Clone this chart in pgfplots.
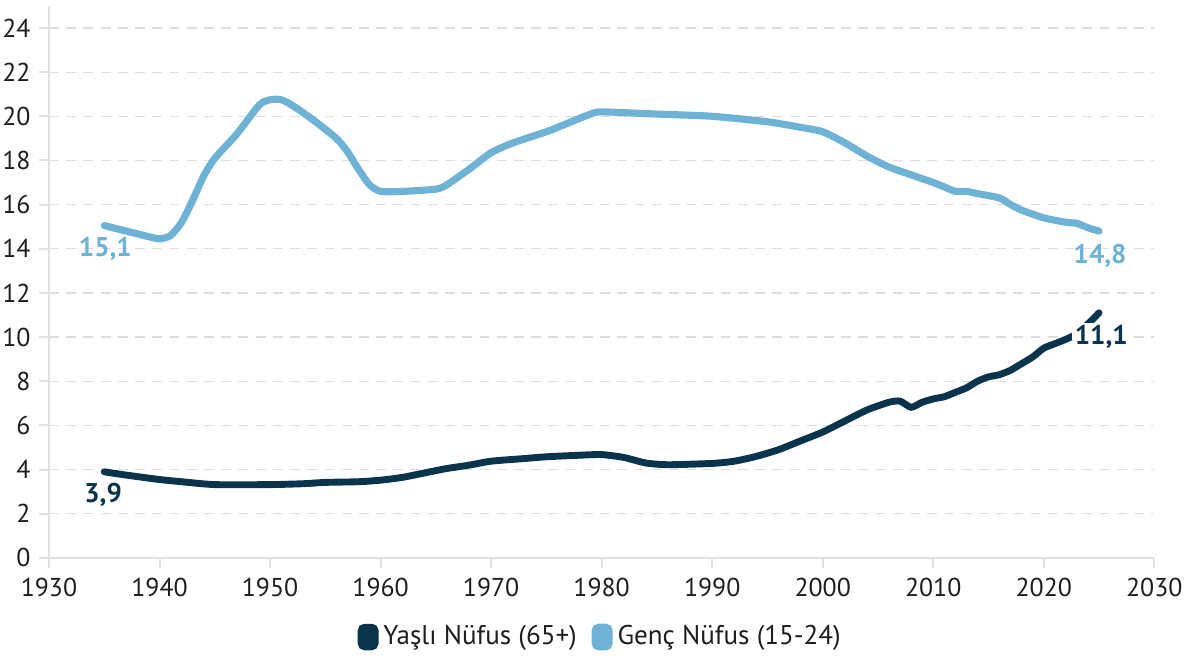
\documentclass[border=0pt]{standalone}
\usepackage{fontspec}
\setmainfont{PT Sans}
\usepackage{pgfplots}
\pgfplotsset{compat=1.18}
\definecolor{yasli}{RGB}{10,52,76}
\definecolor{genc}{RGB}{110,178,214}
\definecolor{gridc}{RGB}{222,222,222}
\definecolor{axc}{RGB}{225,225,225}
\definecolor{txt}{RGB}{30,30,30}
\begin{document}
\begin{tikzpicture}
\useasboundingbox (-0.70cm,-1.40cm) rectangle (16.30cm,7.97cm);
\begin{axis}[
  scale only axis,
  width=15.79cm, height=7.886cm,
  at={(0,0)}, anchor=south west,
  xmin=1930, xmax=2030, ymin=0, ymax=25,
  xtick={1930,1940,...,2030},
  ytick={0,2,...,24},
  axis x line*=bottom, axis y line*=left,
  axis line style={draw=axc, line width=0.8pt, -},
  tick style={draw=axc, line width=0.8pt},
  tick align=outside, major tick length=0.14cm,
  ymajorgrids,
  grid style={draw=gridc, dash pattern=on 4pt off 3pt, line width=0.5pt},
  /pgf/number format/1000 sep={},
  /pgf/number format/assume math mode=true,
  tick label style={font=\fontsize{10.5}{12}\selectfont, text=txt},
  xticklabel style={yshift=-0.02cm},
  legend style={at={(0.5,0)}, anchor=center, yshift=-1.13cm, draw=none, fill=none,
    font=\fontsize{11}{12}\selectfont, text=txt, legend columns=2,
    /tikz/every even column/.append style={column sep=4pt}},
  legend cell align=left,
  legend image code/.code={\fill[#1, rounded corners=1.5pt] (0cm,-0.14cm) rectangle (0.2cm,0.14cm);},
]
\addplot[yasli, line width=2.8pt, smooth, tension=0.4, line cap=round] coordinates {
(1935,3.9)(1937,3.75)(1940,3.55)(1942,3.45)(1945,3.32)(1950,3.32)(1953,3.36)(1955,3.42)
(1958,3.45)(1960,3.52)(1962,3.65)(1964,3.85)(1966,4.05)(1968,4.2)(1970,4.38)(1973,4.5)
(1975,4.58)(1978,4.65)(1980,4.68)(1982,4.55)(1984,4.3)(1986,4.22)(1990,4.28)(1992,4.38)
(1994,4.6)(1996,4.9)(1998,5.3)(2000,5.7)(2002,6.2)(2004,6.7)(2006,7.05)(2007,7.1)
(2008,6.82)(2009,7.05)(2010,7.2)(2011,7.3)(2012,7.5)(2013,7.7)(2014,8.0)(2015,8.2)
(2016,8.3)(2017,8.5)(2018,8.8)(2019,9.1)(2020,9.5)(2021,9.7)(2022,9.9)(2023,10.15)
(2024,10.6)(2025,11.1)};
\addlegendentry{Yaşlı Nüfus (65+)}
\addplot[genc, line width=2.9pt, smooth, tension=0.4, line cap=round] coordinates {
(1935,15.05)(1937,14.8)(1939,14.55)(1940,14.45)(1941,14.6)(1942,15.2)(1943,16.2)(1944,17.3)
(1945,18.1)(1947,19.2)(1949,20.5)(1950,20.75)(1951,20.75)(1952,20.5)(1954,19.8)(1956,19.0)
(1957,18.4)(1958,17.6)(1959,16.9)(1960,16.6)(1962,16.6)(1965,16.7)(1966,16.9)(1968,17.6)
(1970,18.35)(1972,18.8)(1975,19.3)(1977,19.7)(1979,20.1)(1980,20.2)(1985,20.1)(1990,20.0)
(1995,19.75)(1998,19.5)(2000,19.3)(2002,18.8)(2004,18.2)(2006,17.7)(2008,17.35)(2010,17.0)
(2011,16.8)(2012,16.6)(2013,16.6)(2014,16.5)(2016,16.3)(2017,16.0)(2018,15.75)(2020,15.4)
(2022,15.2)(2023,15.15)(2024,14.95)(2025,14.8)};
\addlegendentry{Genç Nüfus (15-24)}
\node[font=\fontsize{11}{12}\selectfont\bfseries, text=genc] at (axis cs:1935.1,14.0) {15,1};
\node[font=\fontsize{11}{12}\selectfont\bfseries, text=yasli] at (axis cs:1934.9,2.85) {3,9};
\node[font=\fontsize{11}{12}\selectfont\bfseries, text=genc] at (axis cs:2025.1,13.7) {14,8};
\node[font=\fontsize{11}{12}\selectfont\bfseries, text=yasli, fill=white, inner sep=1pt] at (axis cs:2025.2,10.0) {11,1};
\end{axis}
\end{tikzpicture}
\end{document}
